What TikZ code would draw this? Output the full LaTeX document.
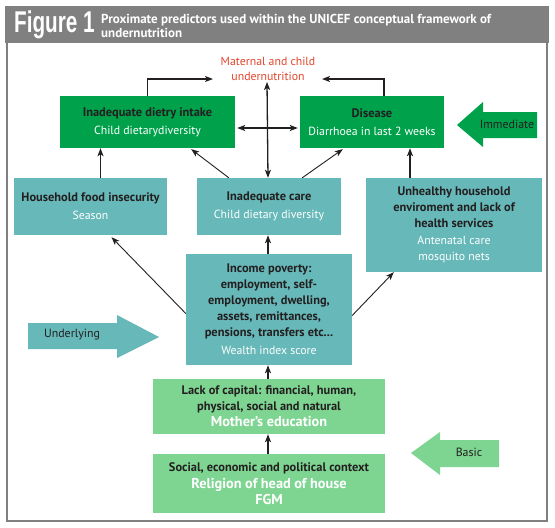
\documentclass[tikz,border=0pt]{standalone}
\usepackage{fontspec}
\usepackage{graphicx}
\setmainfont{PT Sans}
\newfontfamily\figfont{Liberation Sans}
\usetikzlibrary{arrows.meta,positioning}
\definecolor{headgray}{HTML}{808080}
\definecolor{dietgreen}{HTML}{00A14B}
\definecolor{careteal}{HTML}{67B8B9}
\definecolor{basegreen}{HTML}{7ED591}
\definecolor{inkdark}{HTML}{231F20}
\definecolor{outred}{HTML}{E2452A}
\newcommand{\boxhead}[1]{{\bfseries\fontsize{12.4}{16}\selectfont\color{inkdark}#1}}
\newcommand{\boxsub}[1]{{\color{white}#1}}
\newcommand{\basesub}[1]{{\bfseries\fontsize{14.3}{18}\selectfont\color{white}#1}}
\tikzset{
  boxbase/.style={inner sep=2pt,align=center,font=\fontsize{11.8}{16}\selectfont},
  darkbox/.style={boxbase,fill=dietgreen},
  tealbox/.style={boxbase,fill=careteal},
  lightbox/.style={boxbase,fill=basegreen},
  link/.style={-{Stealth[length=8pt,width=6pt,inset=2pt]},line width=1.3pt,inkdark},
  thinlink/.style={link,line width=0.9pt},
  levellabel/.style={font=\fontsize{11.9}{14}\selectfont,text=inkdark}
}
\begin{document}
\begin{tikzpicture}[x=1pt,y=-1pt]
\useasboundingbox[fill=white] (0,0) rectangle (555,528);
% header and frame
\fill[headgray] (5,6) rectangle (549,43);
\draw[headgray,line width=2.5pt] (7,43) -- (7,521) -- (547,521) -- (547,43);
\node[anchor=west,inner sep=0pt,text=white] (fig) at (14,25)
  {\scalebox{0.69}[1]{\figfont\bfseries\fontsize{30}{30}\selectfont Figure 1}};
\node[anchor=west,inner sep=0pt,align=left,text=white,
  font=\bfseries\fontsize{13}{14}\selectfont] (title) at (101,26)
  {Proximate predictors used within the UNICEF conceptual framework of\\undernutrition};
% outcome
\node[align=center,text=outred,font=\fontsize{11.8}{15}\selectfont,inner sep=1pt] (mcu) at (268,69)
  {Maternal and child\\undernutrition};
\coordinate (mcuL) at (213,79);
\coordinate (mcuR) at (322,79);
% immediate
\node[darkbox,minimum width=175pt,minimum height=52pt] (diet) at (147.5,122)
  {\boxhead{Inadequate dietry intake}\\[2pt]\boxsub{Child dietarydiversity}};
\node[darkbox,minimum width=144pt,minimum height=52pt] (disease) at (372,122)
  {\boxhead{Disease}\\[2pt]\boxsub{Diarrhoea in last 2 weeks}};
% underlying
\node[tealbox,minimum width=153pt,minimum height=57pt] (food) at (90.5,206.5)
  {\boxhead{Household food insecurity}\\[2pt]\boxsub{Season}};
\node[tealbox,minimum width=144pt,minimum height=57pt] (care) at (269,206.5)
  {\boxhead{Inadequate care}\\[2pt]\boxsub{Child dietary diversity}};
\node[tealbox,minimum width=176pt,minimum height=94pt] (env) at (454,225)
  {\boxhead{Unhealthy household}\\\boxhead{enviroment and lack of}\\\boxhead{health services}\\[1pt]
   \boxsub{Antenatal care}\\\boxsub{mosquito nets}};
\node[tealbox,minimum width=166pt,minimum height=111pt] (income) at (269,309.5)
  {\boxhead{Income poverty:}\\\boxhead{employment, self-}\\\boxhead{employment, dwelling,}\\
   \boxhead{assets, remittances,}\\\boxhead{pensions, transfers etc...}\\[2pt]\boxsub{Wealth index score}};
% basic
\node[lightbox,minimum width=232pt,minimum height=55pt] (capital) at (269,406.5)
  {\boxhead{Lack of capital: financial, human,}\\\boxhead{physical, social and natural}\\\basesub{Mother's education}};
\node[lightbox,minimum width=232pt,minimum height=59pt] (context) at (269,483.5)
  {\boxhead{Social, economic and political context}\\[1pt]\basesub{Religion of head of house}\\\basesub{FGM}};
% level arrows
\fill[dietgreen] (457,125) -- (483,102) -- (483,112) -- (537,112) -- (537,138) -- (483,138) -- (483,147) -- cycle;
\node[levellabel] (immediate) at (507,124) {Immediate};
\fill[careteal] (159,337) -- (117,315) -- (117,323) -- (28,323) -- (28,349) -- (117,349) -- (117,358) -- cycle;
\node[levellabel] (underlying) at (72,335) {Underlying};
\fill[basegreen] (411,453) -- (440,432) -- (440,440) -- (499,440) -- (499,467) -- (440,467) -- (440,475) -- cycle;
\node[levellabel] (basic) at (469,452) {Basic};
% connectors
\draw[link] (diet.north) |- (mcuL);
\draw[link] ([xshift=12pt]disease.north) |- (mcuR);
\draw[link,{Stealth[length=8pt,width=6pt,inset=2pt]}-{Stealth[length=8pt,width=6pt,inset=2pt]}]
  ([xshift=-1pt]care.north) -- ([xshift=-1pt]mcu.south);
\draw[link,{Stealth[length=8pt,width=6pt,inset=2pt]}-{Stealth[length=8pt,width=6pt,inset=2pt]}]
  ([yshift=-6pt,xshift=2pt]diet.east) -- ([yshift=-6pt,xshift=-2pt]disease.west);
\draw[thinlink] ([xshift=32pt]care.north west) -- ([xshift=-44pt,yshift=-1pt]diet.south east);
\draw[thinlink] ([xshift=-39pt]care.north east) -- ([xshift=43pt,yshift=-1pt]disease.south west);
\draw[link] ([xshift=10pt]food.north) -- ([xshift=10pt]food.north |- diet.south);
\draw[link] ([xshift=-44pt]env.north) -- ([xshift=-44pt]env.north |- disease.south);
\draw[link] ([xshift=-1pt]income.north) -- ([xshift=-1pt]care.south);
\draw[thinlink] ([yshift=-4pt]income.west) -- ([xshift=21pt,yshift=-2pt]food.south);
\draw[thinlink] ([yshift=-6pt]income.east) -- ([xshift=28pt]env.south west);
\draw[link] ([xshift=-1pt]capital.north) -- ([xshift=-1pt]income.south);
\draw[link] ([xshift=-1pt]context.north) -- ([xshift=-1pt]capital.south);
\end{tikzpicture}
\end{document}
